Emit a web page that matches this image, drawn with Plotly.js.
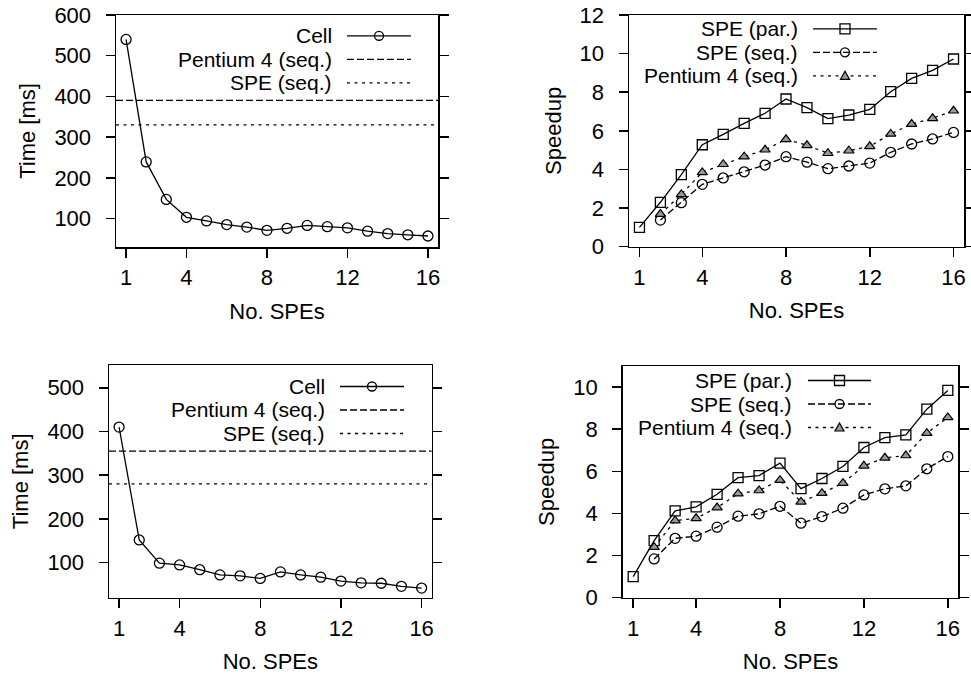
<!DOCTYPE html>
<html>
<head>
<meta charset="utf-8">
<script src="https://cdn.plot.ly/plotly-3.0.1.min.js"></script>
<style>html,body{margin:0;padding:0;background:#fff;} #chart{width:971px;height:677px;}</style>
</head>
<body>
<div id="chart"></div>
<script>
// ---------- data ----------
const spes = [1,2,3,4,5,6,7,8,9,10,11,12,13,14,15,16];
const xTicks = [1,4,8,12,16];

// top-left: execution time [ms]
const cellTimeA = [540,239,147,103,94,85,79,71,76,83,80,77,69,63,60,57];
const pentiumSeqTimeA = 390;
const speSeqTimeA = 330;

// top-right: speedup
const speParSpeedupA = [1.0,2.30,3.73,5.28,5.82,6.39,6.91,7.65,7.20,6.63,6.82,7.11,8.03,8.72,9.13,9.72];
const speSeqSpeedupA = [null,1.38,2.28,3.23,3.56,3.88,4.23,4.66,4.38,4.04,4.18,4.33,4.89,5.32,5.58,5.92];
const p4SeqSpeedupA  = [null,1.69,2.71,3.85,4.27,4.66,5.02,5.56,5.25,4.84,4.97,5.20,5.84,6.35,6.65,7.04];

// bottom-left: execution time [ms]
const cellTimeB = [410,152,99,95,84,72,70,64,79,72,67,58,54,53,46,42];
const pentiumSeqTimeB = 355;
const speSeqTimeB = 280;

// bottom-right: speedup
const speParSpeedupB = [1.0,2.71,4.12,4.31,4.91,5.70,5.80,6.39,5.18,5.66,6.23,7.13,7.60,7.73,8.95,9.84];
const speSeqSpeedupB = [null,1.84,2.82,2.92,3.35,3.87,3.98,4.34,3.54,3.85,4.25,4.88,5.17,5.31,6.12,6.70];
const p4SeqSpeedupB  = [null,2.40,3.66,3.77,4.28,4.94,5.09,5.58,4.55,4.96,5.44,6.26,6.64,6.75,7.81,8.56];

const timeTicksA = [100,200,300,400,500,600];
const timeTicksB = [100,200,300,400,500];
const speedTicksA = [0,2,4,6,8,10,12];
const speedTicksB = [0,2,4,6,8,10];

const xTitle = 'No. SPEs';
const timeTitle = 'Time [ms]';
const speedTitle = 'Speedup';
const timeLegend = ['Cell','Pentium 4 (seq.)','SPE (seq.)'];
const speedLegend = ['SPE (par.)','SPE (seq.)','Pentium 4 (seq.)'];

// ---------- layout helpers ----------
const W = 971, H = 677;
const px = x => x / W;
const py = y => 1 - y / H;
const FONT = {family: '"Liberation Sans", Arial, Helvetica, sans-serif', size: 22, color: '#000'};
const KEYFONT = {family: FONT.family, size: 21, color: '#000'};
const LW = 1.5;
const DASH = '7px,3px';
const DOT = '3px,4.5px';

function xAxis(l, r, anchor) {
  return {
    domain: [px(l), px(r)], anchor: anchor, range: [0.5, 16.5],
    tickvals: xTicks, ticks: 'outside', ticklen: 9, tickwidth: LW, tickcolor: '#000',
    showline: true, linewidth: LW, linecolor: '#000', mirror: true,
    showgrid: false, zeroline: false, tickfont: FONT, ticklabelstandoff: 1,
    title: {text: xTitle, font: FONT, standoff: 14}, fixedrange: true
  };
}
function yAxis(t, b, anchor, range, ticks, title) {
  return {
    domain: [py(b), py(t)], anchor: anchor, range: range,
    tickvals: ticks, ticks: 'outside', ticklen: 9, tickwidth: LW, tickcolor: '#000',
    showline: true, linewidth: LW, linecolor: '#000', mirror: 'ticks',
    showgrid: false, zeroline: false, tickfont: FONT, ticklabelstandoff: 10,
    title: {text: title, font: FONT, standoff: 12}, fixedrange: true
  };
}

const traces = [];
function line(x, y, xa, ya, dash, symbol, mcolor, mline, size) {
  traces.push({
    x: x, y: y, xaxis: xa, yaxis: ya, type: 'scatter', mode: 'lines+markers',
    line: {color: '#000', width: 1.3, dash: dash},
    marker: {symbol: symbol, size: size, color: mcolor, line: {color: '#000', width: mline}},
    showlegend: false, hoverinfo: 'skip', connectgaps: false
  });
}

// panel 1
line(spes, cellTimeA, 'x', 'y', 'solid', 'circle-open', '#000', 1.3, 10);
// panel 2
line(spes, speParSpeedupA, 'x2', 'y2', 'solid', 'square-open', '#000', 1.3, 10);
line(spes, speSeqSpeedupA, 'x2', 'y2', DASH, 'circle-open', '#000', 1.3, 10);
line(spes, p4SeqSpeedupA, 'x2', 'y2', DOT, 'triangle-up', '#999', 1.2, 9);
// panel 3
line(spes, cellTimeB, 'x3', 'y3', 'solid', 'circle-open', '#000', 1.3, 10);
// panel 4
line(spes, speParSpeedupB, 'x4', 'y4', 'solid', 'square-open', '#000', 1.3, 10);
line(spes, speSeqSpeedupB, 'x4', 'y4', DASH, 'circle-open', '#000', 1.3, 10);
line(spes, p4SeqSpeedupB, 'x4', 'y4', DOT, 'triangle-up', '#999', 1.2, 9);

const shapes = [];
const annotations = [];

function hline(xa, ya, yval, dash) {
  shapes.push({type: 'line', xref: xa + ' domain', yref: ya, x0: 0, x1: 1, y0: yval, y1: yval,
    line: {color: '#000', width: 1.3, dash: dash}, layer: 'above'});
}
hline('x', 'y', pentiumSeqTimeA, DASH);
hline('x', 'y', speSeqTimeA, DOT);
hline('x3', 'y3', pentiumSeqTimeB, DASH);
hline('x3', 'y3', speSeqTimeB, DOT);

// custom key (gnuplot style: text right-aligned, sample to the right)
function markerShape(kind, cx, cy) {
  const base = {xref: 'paper', yref: 'paper', xsizemode: 'pixel', ysizemode: 'pixel',
    xanchor: px(cx), yanchor: py(cy), line: {color: '#000', width: 1.3}};
  if (kind === 'circle') shapes.push(Object.assign({type: 'circle', x0: -4.5, x1: 4.5, y0: -4.5, y1: 4.5, fillcolor: 'rgba(255,255,255,0)'}, base));
  else if (kind === 'square') shapes.push(Object.assign({type: 'rect', x0: -5, x1: 5, y0: -5, y1: 5, fillcolor: 'rgba(255,255,255,0)'}, base));
  else if (kind === 'triangle') shapes.push(Object.assign({type: 'path', path: 'M-4.5,-3.5 L4.5,-3.5 L0,4.5 Z', fillcolor: '#999'}, base, {line: {color: '#000', width: 1.2}}));
}
function key(labels, textRight, midRow, sx0, sx1, styles) {
  const STEP = 23.5;
  labels.forEach((lab, i) => {
    const row = midRow + (i - 1) * STEP;
    annotations.push({xref: 'paper', yref: 'paper', x: px(textRight), y: py(row),
      xanchor: 'right', yanchor: 'middle', text: lab, showarrow: false, font: KEYFONT, borderpad: 0});
    shapes.push({type: 'line', xref: 'paper', yref: 'paper', x0: px(sx0), x1: px(sx1),
      y0: py(row), y1: py(row), line: {color: '#000', width: 1.3, dash: styles[i].dash}});
    if (styles[i].marker) markerShape(styles[i].marker, (sx0 + sx1) / 2, row);
  });
}
const timeStyles = [{dash: 'solid', marker: 'circle'}, {dash: DASH}, {dash: DOT}];
const speedStyles = [{dash: 'solid', marker: 'square'}, {dash: DASH, marker: 'circle'}, {dash: DOT, marker: 'triangle'}];
key(timeLegend, 333, 59.3, 347, 411, timeStyles);
key(speedLegend, 799, 52.3, 813, 877, speedStyles);
key(timeLegend, 326, 410, 340, 404, timeStyles);
key(speedLegend, 793, 404, 808, 871, speedStyles);

const layout = {
  width: W, height: H, margin: {l: 0, r: 0, t: 0, b: 0},
  paper_bgcolor: '#fff', plot_bgcolor: '#fff', font: FONT, showlegend: false,
  xaxis:  xAxis(116, 438, 'y'),
  yaxis:  yAxis(15, 247, 'x', [30, 600], timeTicksA, timeTitle),
  xaxis2: xAxis(629, 964, 'y2'),
  yaxis2: yAxis(15, 246.7, 'x2', [0, 12], speedTicksA, speedTitle),
  xaxis3: xAxis(109, 431.7, 'y3'),
  yaxis3: yAxis(365, 597.7, 'x3', [20, 552], timeTicksB, timeTitle),
  xaxis4: xAxis(622.7, 958.3, 'y4'),
  yaxis4: yAxis(366, 597.7, 'x4', [0, 11], speedTicksB, speedTitle),
  shapes: shapes, annotations: annotations
};

Plotly.newPlot('chart', traces, layout, {displayModeBar: false, staticPlot: true});
</script>
</body>
</html>
